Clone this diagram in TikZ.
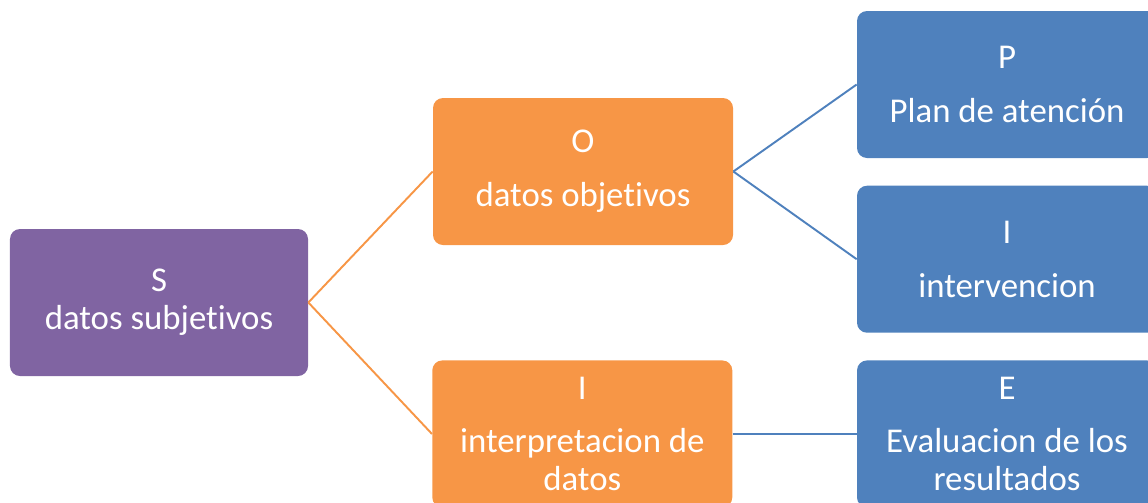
\documentclass[tikz,border=0pt]{standalone}
\usepackage{fontspec}
\setmainfont[Ligatures=NoCommon]{Carlito}
\usetikzlibrary{positioning}
\definecolor{soappurple}{HTML}{8064A2}
\definecolor{soaporange}{HTML}{F79646}
\definecolor{soapblue}{HTML}{4F81BD}
\begin{document}
\begin{tikzpicture}[
every node/.style={
rounded corners=0.2cm,
minimum width=6cm,
minimum height=2.94cm,
inner sep=0pt,
align=center,
text=white,
font=\fontsize{19.8}{21.6}\selectfont
},
purplebox/.style={fill=soappurple, minimum width=5.96cm},
orangebox/.style={fill=soaporange},
bluebox/.style={fill=soapblue},
orangeline/.style={draw=soaporange, line width=1.1pt},
blueline/.style={draw=soapblue, line width=1.1pt}
]
\path[use as bounding box, clip] (0,0) rectangle (22.96,-10.04);
\node[bluebox] (p) at (20.14,-1.69) {P\\[9pt]Plan de atención};
\node[bluebox, below=0.54cm of p] (iv) {I\\[9pt]intervencion};
\node[bluebox, below=0.54cm of iv] (e) {E\\[9pt]Evaluacion de los\\resultados};
\node[orangebox, left=2.48cm of e] (id) {I\\[9pt]interpretacion de\\datos};
\node[orangebox] (o) at (11.66,-3.43) {O\\[9pt]datos objetivos};
\node[purplebox] (s) at (3.18,-6.05) {S\\datos subjetivos};
\draw[orangeline] (s.east) -- (o.west);
\draw[orangeline] (s.east) -- (id.west);
\draw[blueline] (o.east) -- (p.west);
\draw[blueline] (o.east) -- (iv.west);
\draw[blueline] (id.east) -- (e.west);
\end{tikzpicture}
\end{document}
